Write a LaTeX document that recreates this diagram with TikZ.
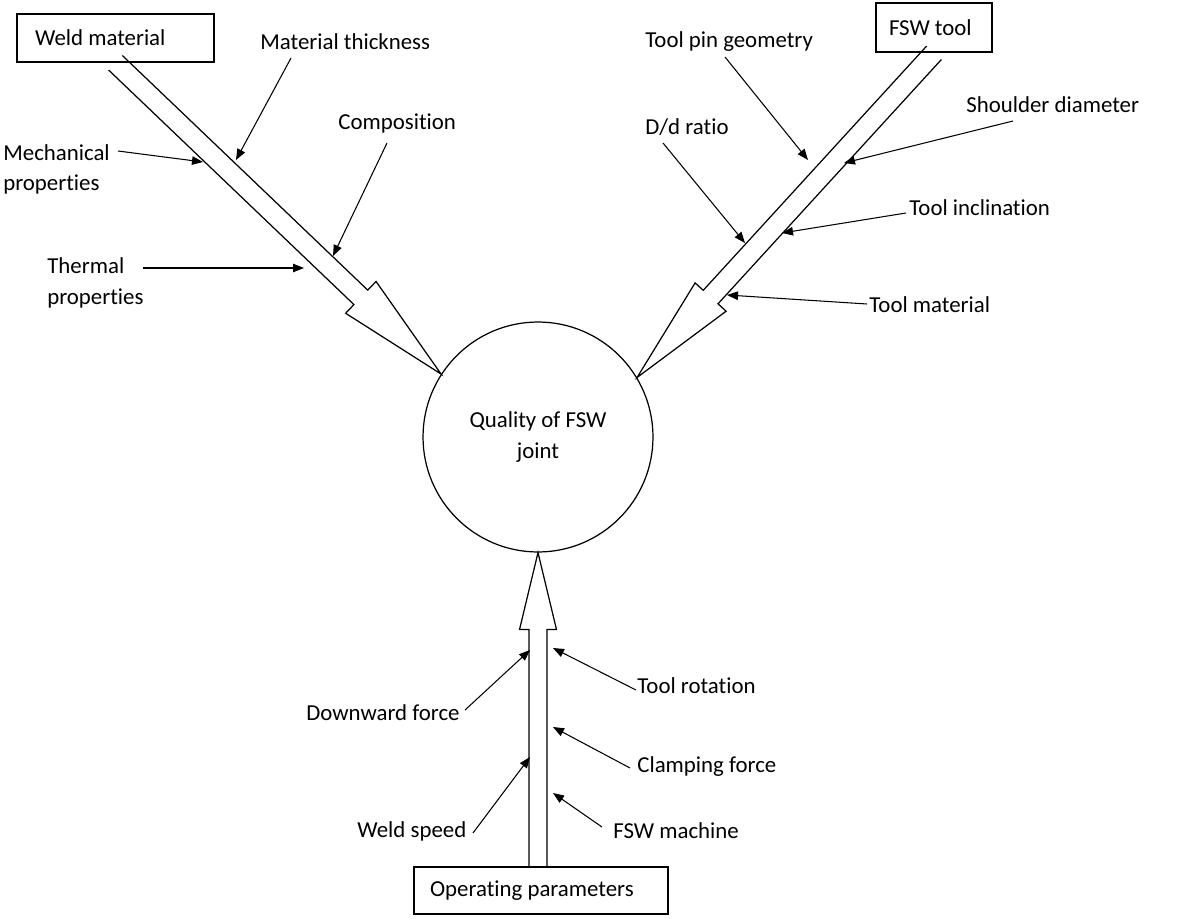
\documentclass[tikz,border=0pt]{standalone}
\usepackage{fontspec}
\setmainfont{Carlito}[RawFeature={-liga;-clig;-calt;-rlig;-dlig}]
\usetikzlibrary{calc,arrows.meta}
\def\hollowarrow(#1)(#2)(#3:#4:#5){%
  \coordinate (hb) at ($(#2)!#5!(#1)$);
  \draw[bigline] ($(#1)!#3!90:(#2)$) -- ($(hb)!#3!90:(#2)$) -- ($(hb)!#4!90:(#2)$) -- (#2)
    -- ($(hb)!#4!-90:(#2)$) -- ($(hb)!#3!-90:(#2)$) -- ($(#1)!#3!-90:(#2)$);}
\tikzset{
  box/.style={draw, line width=0.9pt, rectangle, inner ysep=0pt, align=flush left},
  lbl/.style={inner sep=0pt, anchor=west, align=left},
  bigline/.style={line width=0.7pt},
  feed/.style={line width=0.6pt, -{Triangle[length=0.22cm,width=0.17cm]}},
}
\begin{document}
\begin{tikzpicture}[x=0.02cm, y=-0.02cm, font=\fontsize{13}{17.3}\selectfont]
			%%%%% START %%%%%
			\useasboundingbox (0,0) rectangle (1200,919);
			
			\node[draw, circle, line width=0.7pt, minimum size=4.6cm, inner sep=0pt, align=center] (q) at (538,437) {Quality of FSW\\joint};
			
			\node[box, minimum height=0.96cm, text width=3.22cm, inner xsep=0.36cm] (wm) at (115.5,38) {Weld material};
			\node[box, minimum height=0.98cm, text width=1.80cm, inner xsep=0.26cm] (ft) at (934,27.5) {FSW tool};
			\node[box, minimum height=0.94cm, text width=4.44cm, inner xsep=0.32cm] (op) at (541,890.5) {Operating parameters};
			\coordinate (op-top) at (op.north -| q.south);
			
			\hollowarrow(wm.south)(q.147)(0.2cm:0.44cm:2.22cm);
			\hollowarrow(ft.south)(q.31)(0.2cm:0.42cm:2.18cm);
			\hollowarrow(op-top)(q.south)(0.18cm:0.37cm:1.54cm);
			
			% weld material
			\node[lbl] (mt) at (260,42) {Material thickness};
			\node[lbl] (co) at (338,123) {Composition};
			\node[lbl] (mp) at (3,169.5) {Mechanical\\properties};
			\node[lbl] (tp) at (47,283) {Thermal\\properties};
			\coordinate (mt-a) at (291,58);   \coordinate (mt-b) at (236,160);
			\coordinate (co-a) at (387,143);  \coordinate (co-b) at (333,256);
			\coordinate (mp-a) at (118,151);  \coordinate (mp-b) at (203,162);
			\coordinate (tp-a) at (143,268);  \coordinate (tp-b) at (304,268);
			\draw[feed] (mt-a) -- (mt-b);
			\draw[feed] (co-a) -- (co-b);
			\draw[feed] (mp-a) -- (mp-b);
			\draw[feed] (tp-a) -- (tp-b);
			
			% fsw tool
			\node[lbl] (pg) at (645,42) {Tool pin geometry};
			\node[lbl] (sd) at (966,105) {Shoulder diameter};
			\node[lbl] (dr) at (645,127) {D/d ratio};
			\node[lbl] (ti) at (909,208) {Tool inclination};
			\node[lbl] (tm) at (869,305) {Tool material};
			\coordinate (pg-a) at (725,57);   \coordinate (pg-b) at (808,160);
			\coordinate (sd-a) at (1013,121); \coordinate (sd-b) at (844,163);
			\coordinate (dr-a) at (663,143);  \coordinate (dr-b) at (745,243);
			\coordinate (ti-a) at (906,213);  \coordinate (ti-b) at (782,233);
			\coordinate (tm-a) at (867,304);  \coordinate (tm-b) at (727,295);
			\draw[feed] (pg-a) -- (pg-b);
			\draw[feed] (sd-a) -- (sd-b);
			\draw[feed] (dr-a) -- (dr-b);
			\draw[feed] (ti-a) -- (ti-b);
			\draw[feed] (tm-a) -- (tm-b);
			
			% operating parameters
			\node[lbl] (df) at (306,713) {Downward force};
			\node[lbl] (tr) at (637,686) {Tool rotation};
			\node[lbl] (cf) at (637,767) {Clamping force};
			\node[lbl] (ws) at (357,831) {Weld speed};
			\node[lbl] (fm) at (613,831) {FSW machine};
			\coordinate (df-a) at (465,710);  \coordinate (df-b) at (530,650);
			\coordinate (tr-a) at (636,690);  \coordinate (tr-b) at (553,648);
			\coordinate (cf-a) at (630,768);  \coordinate (cf-b) at (553,727);
			\coordinate (ws-a) at (473,833);  \coordinate (ws-b) at (530,757);
			\coordinate (fm-a) at (602,827);  \coordinate (fm-b) at (553,793);
			\draw[feed] (df-a) -- (df-b);
			\draw[feed] (tr-a) -- (tr-b);
			\draw[feed] (cf-a) -- (cf-b);
			\draw[feed] (ws-a) -- (ws-b);
			\draw[feed] (fm-a) -- (fm-b);
			
			%%%%% END %%%%%
\end{tikzpicture}
\end{document}
